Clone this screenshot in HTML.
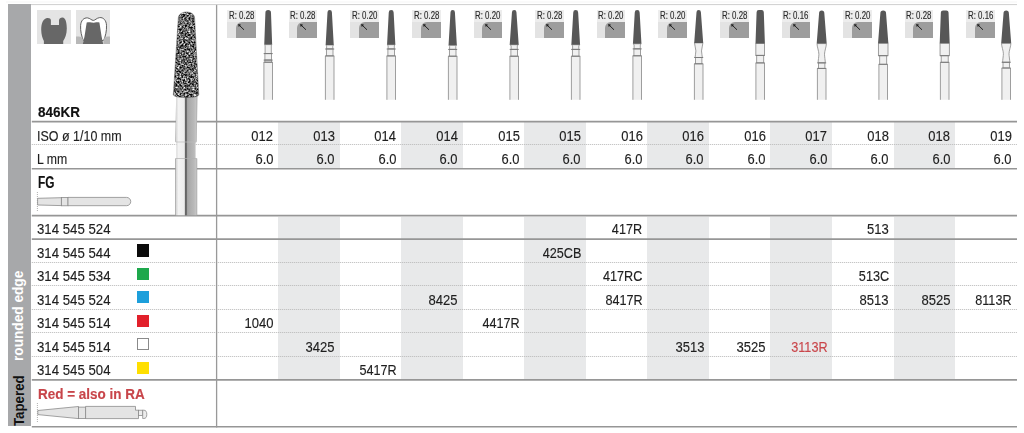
<!DOCTYPE html>
<html><head><meta charset="utf-8"><style>
*{margin:0;padding:0;box-sizing:border-box}
html,body{width:1024px;height:433px;overflow:hidden;background:#fff}
body{position:relative;font-family:"Liberation Sans",sans-serif;color:#1e1e1e}
.a{position:absolute}
.t{position:absolute;white-space:nowrap;font-size:14px;line-height:14px;-webkit-text-stroke:0.15px currentColor}
.tl{transform-origin:0 0}
.tr{transform-origin:100% 0}
.hl{position:absolute;height:0;border-top:1.5px solid #9a9a9a}
.hd{position:absolute;height:0;border-top:1px dotted #b4b4b4}
.g{position:absolute;background:#e8e9ea}
.rb{position:absolute;background:linear-gradient(#ededed 0,#ededed 11.5px,#e3e3e3 12.5px);width:28.6px;height:28.3px}
.rb i{position:absolute;left:8.6px;top:12.2px;width:20px;height:16.1px;background:#9d9d9d;border-top-left-radius:6px}
.rb b{position:absolute;left:1.6px;top:0.9px;font-weight:normal;font-size:10.5px;line-height:10.5px;color:#2a2a2a;-webkit-text-stroke:0.15px #2a2a2a;transform:scaleX(.75);transform-origin:0 0;white-space:nowrap}
</style></head><body>

<div class="a" style="left:6px;top:0.5px;width:1011px;height:2.5px;background:#fafafa"></div>

<div class="a" style="left:8px;top:4.3px;width:23.2px;height:421.3px;background:#a7a8aa"></div>
<div class="g" style="left:278.14px;top:122px;width:61.54px;height:46.5px"></div>
<div class="g" style="left:278.14px;top:216.5px;width:61.54px;height:163px"></div>
<div class="g" style="left:401.22px;top:122px;width:61.54px;height:46.5px"></div>
<div class="g" style="left:401.22px;top:216.5px;width:61.54px;height:163px"></div>
<div class="g" style="left:524.29px;top:122px;width:61.54px;height:46.5px"></div>
<div class="g" style="left:524.29px;top:216.5px;width:61.54px;height:163px"></div>
<div class="g" style="left:647.37px;top:122px;width:61.54px;height:46.5px"></div>
<div class="g" style="left:647.37px;top:216.5px;width:61.54px;height:163px"></div>
<div class="g" style="left:770.45px;top:122px;width:61.54px;height:46.5px"></div>
<div class="g" style="left:770.45px;top:216.5px;width:61.54px;height:163px"></div>
<div class="g" style="left:893.52px;top:122px;width:61.54px;height:46.5px"></div>
<div class="g" style="left:893.52px;top:216.5px;width:61.54px;height:163px"></div>
<svg class="a" style="left:0;top:0" width="1024" height="433"><line x1="31.8" x2="1017" y1="121.6" y2="121.6" stroke="#969696" stroke-width="1.6"/><line x1="31.8" x2="1017" y1="168.7" y2="168.7" stroke="#969696" stroke-width="1.6"/><line x1="31.8" x2="1017" y1="215.6" y2="215.6" stroke="#969696" stroke-width="1.6"/><line x1="31.8" x2="1017" y1="239.1" y2="239.1" stroke="#969696" stroke-width="1.6"/><line x1="31.8" x2="1017" y1="379.9" y2="379.9" stroke="#969696" stroke-width="1.6"/><line x1="31.8" x2="1017" y1="426.7" y2="426.7" stroke="#969696" stroke-width="1.6"/><line x1="31.8" x2="1017" y1="144.5" y2="144.5" stroke="#b8b8b8" stroke-width="1" stroke-dasharray="1 1"/><line x1="31.8" x2="1017" y1="262.5" y2="262.5" stroke="#b8b8b8" stroke-width="1" stroke-dasharray="1 1"/><line x1="31.8" x2="1017" y1="285.5" y2="285.5" stroke="#b8b8b8" stroke-width="1" stroke-dasharray="1 1"/><line x1="31.8" x2="1017" y1="309.5" y2="309.5" stroke="#b8b8b8" stroke-width="1" stroke-dasharray="1 1"/><line x1="31.8" x2="1017" y1="332.5" y2="332.5" stroke="#b8b8b8" stroke-width="1" stroke-dasharray="1 1"/><line x1="31.8" x2="1017" y1="356.5" y2="356.5" stroke="#b8b8b8" stroke-width="1" stroke-dasharray="1 1"/><line x1="216.6" x2="216.6" y1="4.3" y2="427.4" stroke="#999" stroke-width="1.3"/><line x1="31" x2="1017" y1="4.6" y2="4.6" stroke="#cfcfcf" stroke-width="1"/></svg>
<div class="t tl" style="font-size:15.5px;line-height:15.5px;top:104.03px;font-weight:bold;color:#111;left:38.00px;transform:scaleX(0.87);">846KR</div>
<div class="t tl" style="font-size:15.5px;line-height:15.5px;top:127.93px;left:36.90px;transform:scaleX(0.805);">ISO ø 1/10 mm</div>
<div class="t tl" style="font-size:15.5px;line-height:15.5px;top:151.13px;left:36.90px;transform:scaleX(0.79);">L mm</div>
<div class="t tl" style="font-size:16px;line-height:16px;top:174.91px;font-weight:bold;color:#111;left:37.60px;transform:scaleX(0.74);">FG</div>
<div class="t tl" style="font-size:15.5px;line-height:15.5px;top:220.93px;left:37.20px;transform:scaleX(0.853);">314 545 524</div>
<div class="t tr" style="font-size:15.5px;line-height:15.5px;top:220.93px;right:381.53px;transform:scaleX(0.815);">417R</div>
<div class="t tr" style="font-size:15.5px;line-height:15.5px;top:220.93px;right:135.38px;transform:scaleX(0.842);">513</div>
<div class="t tl" style="font-size:15.5px;line-height:15.5px;top:244.73px;left:37.20px;transform:scaleX(0.853);">314 545 544</div>
<div class="a" style="left:137.2px;top:244.40px;width:12.2px;height:12.2px;background:#0b0b0b"></div>
<div class="t tr" style="font-size:15.5px;line-height:15.5px;top:244.73px;right:443.07px;transform:scaleX(0.815);">425CB</div>
<div class="t tl" style="font-size:15.5px;line-height:15.5px;top:268.23px;left:37.20px;transform:scaleX(0.853);">314 545 534</div>
<div class="a" style="left:137.2px;top:267.90px;width:12.2px;height:12.2px;background:#1ea84c"></div>
<div class="t tr" style="font-size:15.5px;line-height:15.5px;top:268.23px;right:381.53px;transform:scaleX(0.815);">417RC</div>
<div class="t tr" style="font-size:15.5px;line-height:15.5px;top:268.23px;right:135.38px;transform:scaleX(0.815);">513C</div>
<div class="t tl" style="font-size:15.5px;line-height:15.5px;top:291.63px;left:37.20px;transform:scaleX(0.853);">314 545 524</div>
<div class="a" style="left:137.2px;top:291.30px;width:12.2px;height:12.2px;background:#1d9fdb"></div>
<div class="t tr" style="font-size:15.5px;line-height:15.5px;top:291.63px;right:566.15px;transform:scaleX(0.842);">8425</div>
<div class="t tr" style="font-size:15.5px;line-height:15.5px;top:291.63px;right:381.53px;transform:scaleX(0.815);">8417R</div>
<div class="t tr" style="font-size:15.5px;line-height:15.5px;top:291.63px;right:135.38px;transform:scaleX(0.842);">8513</div>
<div class="t tr" style="font-size:15.5px;line-height:15.5px;top:291.63px;right:73.84px;transform:scaleX(0.842);">8525</div>
<div class="t tr" style="font-size:15.5px;line-height:15.5px;top:291.63px;right:12.30px;transform:scaleX(0.815);">8113R</div>
<div class="t tl" style="font-size:15.5px;line-height:15.5px;top:315.13px;left:37.20px;transform:scaleX(0.853);">314 545 514</div>
<div class="a" style="left:137.2px;top:314.80px;width:12.2px;height:12.2px;background:#e2202b"></div>
<div class="t tr" style="font-size:15.5px;line-height:15.5px;top:315.13px;right:750.76px;transform:scaleX(0.842);">1040</div>
<div class="t tr" style="font-size:15.5px;line-height:15.5px;top:315.13px;right:504.61px;transform:scaleX(0.815);">4417R</div>
<div class="t tl" style="font-size:15.5px;line-height:15.5px;top:338.63px;left:37.20px;transform:scaleX(0.853);">314 545 514</div>
<div class="a" style="left:137.2px;top:338.30px;width:12.2px;height:12.2px;background:#fff;border:1.3px solid #8a8a8a"></div>
<div class="t tr" style="font-size:15.5px;line-height:15.5px;top:338.63px;right:689.22px;transform:scaleX(0.842);">3425</div>
<div class="t tr" style="font-size:15.5px;line-height:15.5px;top:338.63px;right:319.99px;transform:scaleX(0.842);">3513</div>
<div class="t tr" style="font-size:15.5px;line-height:15.5px;top:338.63px;right:258.45px;transform:scaleX(0.842);">3525</div>
<div class="t tr" style="font-size:15.5px;line-height:15.5px;top:338.63px;color:#c9464b;right:196.92px;transform:scaleX(0.815);">3113R</div>
<div class="t tl" style="font-size:15.5px;line-height:15.5px;top:362.43px;left:37.20px;transform:scaleX(0.853);">314 545 504</div>
<div class="a" style="left:137.2px;top:362.10px;width:12.2px;height:12.2px;background:#ffdf00"></div>
<div class="t tr" style="font-size:15.5px;line-height:15.5px;top:362.43px;right:627.68px;transform:scaleX(0.815);">5417R</div>
<div class="t tr" style="font-size:15.5px;line-height:15.5px;top:128.13px;right:750.76px;transform:scaleX(0.835);">012</div>
<div class="t tr" style="font-size:15.5px;line-height:15.5px;top:151.23px;right:750.76px;transform:scaleX(0.835);">6.0</div>
<div class="t tr" style="font-size:15.5px;line-height:15.5px;top:128.13px;right:689.22px;transform:scaleX(0.835);">013</div>
<div class="t tr" style="font-size:15.5px;line-height:15.5px;top:151.23px;right:689.22px;transform:scaleX(0.835);">6.0</div>
<div class="t tr" style="font-size:15.5px;line-height:15.5px;top:128.13px;right:627.68px;transform:scaleX(0.835);">014</div>
<div class="t tr" style="font-size:15.5px;line-height:15.5px;top:151.23px;right:627.68px;transform:scaleX(0.835);">6.0</div>
<div class="t tr" style="font-size:15.5px;line-height:15.5px;top:128.13px;right:566.15px;transform:scaleX(0.835);">014</div>
<div class="t tr" style="font-size:15.5px;line-height:15.5px;top:151.23px;right:566.15px;transform:scaleX(0.835);">6.0</div>
<div class="t tr" style="font-size:15.5px;line-height:15.5px;top:128.13px;right:504.61px;transform:scaleX(0.835);">015</div>
<div class="t tr" style="font-size:15.5px;line-height:15.5px;top:151.23px;right:504.61px;transform:scaleX(0.835);">6.0</div>
<div class="t tr" style="font-size:15.5px;line-height:15.5px;top:128.13px;right:443.07px;transform:scaleX(0.835);">015</div>
<div class="t tr" style="font-size:15.5px;line-height:15.5px;top:151.23px;right:443.07px;transform:scaleX(0.835);">6.0</div>
<div class="t tr" style="font-size:15.5px;line-height:15.5px;top:128.13px;right:381.53px;transform:scaleX(0.835);">016</div>
<div class="t tr" style="font-size:15.5px;line-height:15.5px;top:151.23px;right:381.53px;transform:scaleX(0.835);">6.0</div>
<div class="t tr" style="font-size:15.5px;line-height:15.5px;top:128.13px;right:319.99px;transform:scaleX(0.835);">016</div>
<div class="t tr" style="font-size:15.5px;line-height:15.5px;top:151.23px;right:319.99px;transform:scaleX(0.835);">6.0</div>
<div class="t tr" style="font-size:15.5px;line-height:15.5px;top:128.13px;right:258.45px;transform:scaleX(0.835);">016</div>
<div class="t tr" style="font-size:15.5px;line-height:15.5px;top:151.23px;right:258.45px;transform:scaleX(0.835);">6.0</div>
<div class="t tr" style="font-size:15.5px;line-height:15.5px;top:128.13px;right:196.92px;transform:scaleX(0.835);">017</div>
<div class="t tr" style="font-size:15.5px;line-height:15.5px;top:151.23px;right:196.92px;transform:scaleX(0.835);">6.0</div>
<div class="t tr" style="font-size:15.5px;line-height:15.5px;top:128.13px;right:135.38px;transform:scaleX(0.835);">018</div>
<div class="t tr" style="font-size:15.5px;line-height:15.5px;top:151.23px;right:135.38px;transform:scaleX(0.835);">6.0</div>
<div class="t tr" style="font-size:15.5px;line-height:15.5px;top:128.13px;right:73.84px;transform:scaleX(0.835);">018</div>
<div class="t tr" style="font-size:15.5px;line-height:15.5px;top:151.23px;right:73.84px;transform:scaleX(0.835);">6.0</div>
<div class="t tr" style="font-size:15.5px;line-height:15.5px;top:128.13px;right:12.30px;transform:scaleX(0.835);">019</div>
<div class="t tr" style="font-size:15.5px;line-height:15.5px;top:151.23px;right:12.30px;transform:scaleX(0.835);">6.0</div>
<div class="t tl" style="font-size:14.5px;line-height:14.5px;top:386.56px;font-weight:bold;color:#c8454a;left:37.50px;transform:scaleX(0.93);">Red = also in RA</div>
<div class="rb" style="left:227.20px;top:9.5px"><i></i><b>R: 0.28</b><svg class="a" style="left:10px;top:13.5px" width="9" height="9" viewBox="0 0 9 9"><path d="M2 2 L7 6.8" stroke="#1a1a1a" stroke-width="0.95"/><path d="M1.1 1.1 L4.1 1.7 L1.7 4.1 Z" fill="#1a1a1a"/></svg></div>
<svg class="a" style="left:0;top:0" width="1024" height="110" viewBox="0 0 1024 110"><rect x="263.90" y="62.20" width="8.6" height="37.60" fill="#f0f0f0"/><path d="M263.90,99.80 L263.90,62.20 M272.50,62.20 L272.50,99.80" fill="none" stroke="#8e8e8e" stroke-width="0.85"/><path d="M264.65,44.60 L265.10,45.80 L265.10,53.60 L271.30,53.60 L271.30,45.80 L271.75,44.60 Z" fill="#f0f0f0" stroke="#8e8e8e" stroke-width="0.85"/><rect x="264.90" y="53.60" width="6.60" height="6.50" fill="#f0f0f0" stroke="#8e8e8e" stroke-width="0.85"/><rect x="264.90" y="60.10" width="6.60" height="2.10" fill="#f0f0f0" stroke="#8e8e8e" stroke-width="0.85"/><line x1="263.70" x2="272.70" y1="53.60" y2="53.60" stroke="#7a7a7a" stroke-width="1"/><line x1="263.70" x2="272.70" y1="60.10" y2="60.10" stroke="#7a7a7a" stroke-width="1"/><line x1="263.70" x2="272.70" y1="62.20" y2="62.20" stroke="#7a7a7a" stroke-width="1"/><path d="M264.25,44.60 L265.40,12.90 A2.80,2.80 0 0 1 271.00,12.90 L272.15,44.60 Z" fill="#575757"/></svg>
<div class="rb" style="left:288.80px;top:9.5px"><i></i><b>R: 0.28</b><svg class="a" style="left:10px;top:13.5px" width="9" height="9" viewBox="0 0 9 9"><path d="M2 2 L7 6.8" stroke="#1a1a1a" stroke-width="0.95"/><path d="M1.1 1.1 L4.1 1.7 L1.7 4.1 Z" fill="#1a1a1a"/></svg></div>
<svg class="a" style="left:0;top:0" width="1024" height="110" viewBox="0 0 1024 110"><rect x="325.40" y="55.90" width="8.6" height="43.90" fill="#f0f0f0"/><path d="M325.40,99.80 L325.40,55.90 M334.00,55.90 L334.00,99.80" fill="none" stroke="#8e8e8e" stroke-width="0.85"/><path d="M326.05,45.00 L326.60,46.20 L326.60,49.00 L332.80,49.00 L332.80,46.20 L333.35,45.00 Z" fill="#f0f0f0" stroke="#8e8e8e" stroke-width="0.85"/><rect x="326.40" y="49.00" width="6.60" height="6.90" fill="#f0f0f0" stroke="#8e8e8e" stroke-width="0.85"/><line x1="325.20" x2="334.20" y1="49.00" y2="49.00" stroke="#7a7a7a" stroke-width="1"/><line x1="325.20" x2="334.20" y1="55.90" y2="55.90" stroke="#7a7a7a" stroke-width="1"/><path d="M325.65,45.00 L327.50,12.30 A2.20,2.20 0 0 1 331.90,12.30 L333.75,45.00 Z" fill="#575757"/></svg>
<div class="rb" style="left:350.40px;top:9.5px"><i></i><b>R: 0.20</b><svg class="a" style="left:10px;top:13.5px" width="9" height="9" viewBox="0 0 9 9"><path d="M2 2 L7 6.8" stroke="#1a1a1a" stroke-width="0.95"/><path d="M1.1 1.1 L4.1 1.7 L1.7 4.1 Z" fill="#1a1a1a"/></svg></div>
<svg class="a" style="left:0;top:0" width="1024" height="110" viewBox="0 0 1024 110"><rect x="386.90" y="55.90" width="8.6" height="43.90" fill="#f0f0f0"/><path d="M386.90,99.80 L386.90,55.90 M395.50,55.90 L395.50,99.80" fill="none" stroke="#8e8e8e" stroke-width="0.85"/><path d="M387.45,44.70 L388.10,45.90 L388.10,49.00 L394.30,49.00 L394.30,45.90 L394.95,44.70 Z" fill="#f0f0f0" stroke="#8e8e8e" stroke-width="0.85"/><rect x="387.90" y="49.00" width="6.60" height="6.90" fill="#f0f0f0" stroke="#8e8e8e" stroke-width="0.85"/><line x1="386.70" x2="395.70" y1="49.00" y2="49.00" stroke="#7a7a7a" stroke-width="1"/><line x1="386.70" x2="395.70" y1="55.90" y2="55.90" stroke="#7a7a7a" stroke-width="1"/><path d="M387.05,44.70 L388.75,12.55 A2.45,2.45 0 0 1 393.65,12.55 L395.35,44.70 Z" fill="#575757"/></svg>
<div class="rb" style="left:412.00px;top:9.5px"><i></i><b>R: 0.28</b><svg class="a" style="left:10px;top:13.5px" width="9" height="9" viewBox="0 0 9 9"><path d="M2 2 L7 6.8" stroke="#1a1a1a" stroke-width="0.95"/><path d="M1.1 1.1 L4.1 1.7 L1.7 4.1 Z" fill="#1a1a1a"/></svg></div>
<svg class="a" style="left:0;top:0" width="1024" height="110" viewBox="0 0 1024 110"><rect x="448.40" y="56.20" width="8.6" height="43.60" fill="#f0f0f0"/><path d="M448.40,99.80 L448.40,56.20 M457.00,56.20 L457.00,99.80" fill="none" stroke="#8e8e8e" stroke-width="0.85"/><path d="M448.95,45.30 L449.60,46.50 L449.60,49.40 L455.80,49.40 L455.80,46.50 L456.45,45.30 Z" fill="#f0f0f0" stroke="#8e8e8e" stroke-width="0.85"/><rect x="449.40" y="49.40" width="6.60" height="6.80" fill="#f0f0f0" stroke="#8e8e8e" stroke-width="0.85"/><line x1="448.20" x2="457.20" y1="49.40" y2="49.40" stroke="#7a7a7a" stroke-width="1"/><line x1="448.20" x2="457.20" y1="56.20" y2="56.20" stroke="#7a7a7a" stroke-width="1"/><path d="M448.55,45.30 L450.50,12.30 A2.20,2.20 0 0 1 454.90,12.30 L456.85,45.30 Z" fill="#575757"/></svg>
<div class="rb" style="left:473.60px;top:9.5px"><i></i><b>R: 0.20</b><svg class="a" style="left:10px;top:13.5px" width="9" height="9" viewBox="0 0 9 9"><path d="M2 2 L7 6.8" stroke="#1a1a1a" stroke-width="0.95"/><path d="M1.1 1.1 L4.1 1.7 L1.7 4.1 Z" fill="#1a1a1a"/></svg></div>
<svg class="a" style="left:0;top:0" width="1024" height="110" viewBox="0 0 1024 110"><rect x="509.90" y="56.20" width="8.6" height="43.60" fill="#f0f0f0"/><path d="M509.90,99.80 L509.90,56.20 M518.50,56.20 L518.50,99.80" fill="none" stroke="#8e8e8e" stroke-width="0.85"/><path d="M510.10,44.70 L511.10,45.90 L511.10,49.40 L517.30,49.40 L517.30,45.90 L518.30,44.70 Z" fill="#f0f0f0" stroke="#8e8e8e" stroke-width="0.85"/><rect x="510.90" y="49.40" width="6.60" height="6.80" fill="#f0f0f0" stroke="#8e8e8e" stroke-width="0.85"/><line x1="509.70" x2="518.70" y1="49.40" y2="49.40" stroke="#7a7a7a" stroke-width="1"/><line x1="509.70" x2="518.70" y1="56.20" y2="56.20" stroke="#7a7a7a" stroke-width="1"/><path d="M509.70,44.70 L511.95,12.35 A2.25,2.25 0 0 1 516.45,12.35 L518.70,44.70 Z" fill="#575757"/></svg>
<div class="rb" style="left:535.20px;top:9.5px"><i></i><b>R: 0.28</b><svg class="a" style="left:10px;top:13.5px" width="9" height="9" viewBox="0 0 9 9"><path d="M2 2 L7 6.8" stroke="#1a1a1a" stroke-width="0.95"/><path d="M1.1 1.1 L4.1 1.7 L1.7 4.1 Z" fill="#1a1a1a"/></svg></div>
<svg class="a" style="left:0;top:0" width="1024" height="110" viewBox="0 0 1024 110"><rect x="571.40" y="56.20" width="8.6" height="43.60" fill="#f0f0f0"/><path d="M571.40,99.80 L571.40,56.20 M580.00,56.20 L580.00,99.80" fill="none" stroke="#8e8e8e" stroke-width="0.85"/><path d="M571.75,44.70 L572.60,45.90 L572.60,49.40 L578.80,49.40 L578.80,45.90 L579.65,44.70 Z" fill="#f0f0f0" stroke="#8e8e8e" stroke-width="0.85"/><rect x="572.40" y="49.40" width="6.60" height="6.80" fill="#f0f0f0" stroke="#8e8e8e" stroke-width="0.85"/><line x1="571.20" x2="580.20" y1="49.40" y2="49.40" stroke="#7a7a7a" stroke-width="1"/><line x1="571.20" x2="580.20" y1="56.20" y2="56.20" stroke="#7a7a7a" stroke-width="1"/><path d="M571.35,44.70 L573.25,12.55 A2.45,2.45 0 0 1 578.15,12.55 L580.05,44.70 Z" fill="#575757"/></svg>
<div class="rb" style="left:596.80px;top:9.5px"><i></i><b>R: 0.20</b><svg class="a" style="left:10px;top:13.5px" width="9" height="9" viewBox="0 0 9 9"><path d="M2 2 L7 6.8" stroke="#1a1a1a" stroke-width="0.95"/><path d="M1.1 1.1 L4.1 1.7 L1.7 4.1 Z" fill="#1a1a1a"/></svg></div>
<svg class="a" style="left:0;top:0" width="1024" height="110" viewBox="0 0 1024 110"><rect x="632.90" y="55.80" width="8.6" height="44.00" fill="#f0f0f0"/><path d="M632.90,99.80 L632.90,55.80 M641.50,55.80 L641.50,99.80" fill="none" stroke="#8e8e8e" stroke-width="0.85"/><path d="M633.35,43.80 L634.10,45.00 L634.10,48.90 L640.30,48.90 L640.30,45.00 L641.05,43.80 Z" fill="#f0f0f0" stroke="#8e8e8e" stroke-width="0.85"/><rect x="633.90" y="48.90" width="6.60" height="6.90" fill="#f0f0f0" stroke="#8e8e8e" stroke-width="0.85"/><line x1="632.70" x2="641.70" y1="48.90" y2="48.90" stroke="#7a7a7a" stroke-width="1"/><line x1="632.70" x2="641.70" y1="55.80" y2="55.80" stroke="#7a7a7a" stroke-width="1"/><path d="M632.95,43.80 L634.75,12.55 A2.45,2.45 0 0 1 639.65,12.55 L641.45,43.80 Z" fill="#575757"/></svg>
<div class="rb" style="left:658.40px;top:9.5px"><i></i><b>R: 0.20</b><svg class="a" style="left:10px;top:13.5px" width="9" height="9" viewBox="0 0 9 9"><path d="M2 2 L7 6.8" stroke="#1a1a1a" stroke-width="0.95"/><path d="M1.1 1.1 L4.1 1.7 L1.7 4.1 Z" fill="#1a1a1a"/></svg></div>
<svg class="a" style="left:0;top:0" width="1024" height="110" viewBox="0 0 1024 110"><rect x="694.40" y="63.80" width="8.6" height="36.00" fill="#f0f0f0"/><path d="M694.40,99.80 L694.40,63.80 M703.00,63.80 L703.00,99.80" fill="none" stroke="#8e8e8e" stroke-width="0.85"/><path d="M694.50,42.90 C694.50,45.90 695.90,47.93 695.90,50.93 C695.90,52.93 695.10,55.50 695.10,57.50 L702.30,57.50 C702.30,55.50 701.50,52.93 701.50,50.93 C701.50,47.93 702.90,45.90 702.90,42.90 Z" fill="#f0f0f0" stroke="#8e8e8e" stroke-width="0.85"/><rect x="695.50" y="57.50" width="6.40" height="6.30" fill="#f0f0f0" stroke="#8e8e8e" stroke-width="0.85"/><line x1="694.20" x2="703.20" y1="57.50" y2="57.50" stroke="#7a7a7a" stroke-width="1"/><line x1="694.20" x2="703.20" y1="63.80" y2="63.80" stroke="#7a7a7a" stroke-width="1"/><path d="M694.20,42.90 L696.50,12.30 A2.20,2.20 0 0 1 700.90,12.30 L703.20,42.90 Z" fill="#575757"/></svg>
<div class="rb" style="left:720.00px;top:9.5px"><i></i><b>R: 0.28</b><svg class="a" style="left:10px;top:13.5px" width="9" height="9" viewBox="0 0 9 9"><path d="M2 2 L7 6.8" stroke="#1a1a1a" stroke-width="0.95"/><path d="M1.1 1.1 L4.1 1.7 L1.7 4.1 Z" fill="#1a1a1a"/></svg></div>
<svg class="a" style="left:0;top:0" width="1024" height="110" viewBox="0 0 1024 110"><rect x="755.90" y="62.90" width="8.6" height="36.90" fill="#f0f0f0"/><path d="M755.90,99.80 L755.90,62.90 M764.50,62.90 L764.50,99.80" fill="none" stroke="#8e8e8e" stroke-width="0.85"/><rect x="755.85" y="43.40" width="8.70" height="12.00" fill="#f0f0f0" stroke="#8e8e8e" stroke-width="0.85"/><rect x="756.70" y="55.40" width="7.00" height="7.50" fill="#f0f0f0" stroke="#8e8e8e" stroke-width="0.85"/><line x1="755.70" x2="764.70" y1="55.40" y2="55.40" stroke="#7a7a7a" stroke-width="1"/><line x1="755.70" x2="764.70" y1="62.90" y2="62.90" stroke="#7a7a7a" stroke-width="1"/><path d="M755.50,43.40 L756.60,12.30 Q756.60,10.10 758.80,10.10 L761.60,10.10 Q763.80,10.10 763.80,12.30 L764.90,43.40 Z" fill="#575757"/></svg>
<div class="rb" style="left:781.60px;top:9.5px"><i></i><b>R: 0.16</b><svg class="a" style="left:10px;top:13.5px" width="9" height="9" viewBox="0 0 9 9"><path d="M2 2 L7 6.8" stroke="#1a1a1a" stroke-width="0.95"/><path d="M1.1 1.1 L4.1 1.7 L1.7 4.1 Z" fill="#1a1a1a"/></svg></div>
<svg class="a" style="left:0;top:0" width="1024" height="110" viewBox="0 0 1024 110"><rect x="817.40" y="68.40" width="8.6" height="31.40" fill="#f0f0f0"/><path d="M817.40,99.80 L817.40,68.40 M826.00,68.40 L826.00,99.80" fill="none" stroke="#8e8e8e" stroke-width="0.85"/><path d="M817.00,43.60 C817.00,46.60 818.90,51.22 818.90,54.22 C818.90,56.22 818.10,60.90 818.10,62.90 L825.30,62.90 C825.30,60.90 824.50,56.22 824.50,54.22 C824.50,51.22 826.40,46.60 826.40,43.60 Z" fill="#f0f0f0" stroke="#8e8e8e" stroke-width="0.85"/><rect x="818.50" y="62.90" width="6.40" height="5.50" fill="#f0f0f0" stroke="#8e8e8e" stroke-width="0.85"/><line x1="817.20" x2="826.20" y1="62.90" y2="62.90" stroke="#7a7a7a" stroke-width="1"/><line x1="817.20" x2="826.20" y1="68.40" y2="68.40" stroke="#7a7a7a" stroke-width="1"/><path d="M816.70,43.60 L819.10,13.00 A2.60,2.60 0 0 1 824.30,13.00 L826.70,43.60 Z" fill="#575757"/></svg>
<div class="rb" style="left:843.20px;top:9.5px"><i></i><b>R: 0.20</b><svg class="a" style="left:10px;top:13.5px" width="9" height="9" viewBox="0 0 9 9"><path d="M2 2 L7 6.8" stroke="#1a1a1a" stroke-width="0.95"/><path d="M1.1 1.1 L4.1 1.7 L1.7 4.1 Z" fill="#1a1a1a"/></svg></div>
<svg class="a" style="left:0;top:0" width="1024" height="110" viewBox="0 0 1024 110"><rect x="878.90" y="64.30" width="8.6" height="35.50" fill="#f0f0f0"/><path d="M878.90,99.80 L878.90,64.30 M887.50,64.30 L887.50,99.80" fill="none" stroke="#8e8e8e" stroke-width="0.85"/><rect x="878.40" y="43.30" width="9.60" height="12.40" fill="#f0f0f0" stroke="#8e8e8e" stroke-width="0.85"/><rect x="879.70" y="55.70" width="7.00" height="8.60" fill="#f0f0f0" stroke="#8e8e8e" stroke-width="0.85"/><line x1="878.70" x2="887.70" y1="55.70" y2="55.70" stroke="#7a7a7a" stroke-width="1"/><line x1="878.70" x2="887.70" y1="64.30" y2="64.30" stroke="#7a7a7a" stroke-width="1"/><path d="M878.05,43.30 L880.35,13.25 A2.85,2.85 0 0 1 886.05,13.25 L888.35,43.30 Z" fill="#575757"/></svg>
<div class="rb" style="left:904.80px;top:9.5px"><i></i><b>R: 0.28</b><svg class="a" style="left:10px;top:13.5px" width="9" height="9" viewBox="0 0 9 9"><path d="M2 2 L7 6.8" stroke="#1a1a1a" stroke-width="0.95"/><path d="M1.1 1.1 L4.1 1.7 L1.7 4.1 Z" fill="#1a1a1a"/></svg></div>
<svg class="a" style="left:0;top:0" width="1024" height="110" viewBox="0 0 1024 110"><rect x="940.40" y="62.30" width="8.6" height="37.50" fill="#f0f0f0"/><path d="M940.40,99.80 L940.40,62.30 M949.00,62.30 L949.00,99.80" fill="none" stroke="#8e8e8e" stroke-width="0.85"/><rect x="940.05" y="43.30" width="9.30" height="12.40" fill="#f0f0f0" stroke="#8e8e8e" stroke-width="0.85"/><rect x="941.20" y="55.70" width="7.00" height="6.60" fill="#f0f0f0" stroke="#8e8e8e" stroke-width="0.85"/><line x1="940.20" x2="949.20" y1="55.70" y2="55.70" stroke="#7a7a7a" stroke-width="1"/><line x1="940.20" x2="949.20" y1="62.30" y2="62.30" stroke="#7a7a7a" stroke-width="1"/><path d="M939.70,43.30 L940.85,12.60 Q940.85,10.40 943.05,10.40 L946.35,10.40 Q948.55,10.40 948.55,12.60 L949.70,43.30 Z" fill="#575757"/></svg>
<div class="rb" style="left:966.40px;top:9.5px"><i></i><b>R: 0.16</b><svg class="a" style="left:10px;top:13.5px" width="9" height="9" viewBox="0 0 9 9"><path d="M2 2 L7 6.8" stroke="#1a1a1a" stroke-width="0.95"/><path d="M1.1 1.1 L4.1 1.7 L1.7 4.1 Z" fill="#1a1a1a"/></svg></div>
<svg class="a" style="left:0;top:0" width="1024" height="110" viewBox="0 0 1024 110"><rect x="1001.90" y="68.00" width="8.6" height="31.80" fill="#f0f0f0"/><path d="M1001.90,99.80 L1001.90,68.00 M1010.50,68.00 L1010.50,99.80" fill="none" stroke="#8e8e8e" stroke-width="0.85"/><path d="M1001.50,43.30 C1001.50,46.30 1003.40,50.75 1003.40,53.75 C1003.40,55.75 1002.60,60.30 1002.60,62.30 L1009.80,62.30 C1009.80,60.30 1009.00,55.75 1009.00,53.75 C1009.00,50.75 1010.90,46.30 1010.90,43.30 Z" fill="#f0f0f0" stroke="#8e8e8e" stroke-width="0.85"/><rect x="1003.00" y="62.30" width="6.40" height="5.70" fill="#f0f0f0" stroke="#8e8e8e" stroke-width="0.85"/><line x1="1001.70" x2="1010.70" y1="62.30" y2="62.30" stroke="#7a7a7a" stroke-width="1"/><line x1="1001.70" x2="1010.70" y1="68.00" y2="68.00" stroke="#7a7a7a" stroke-width="1"/><path d="M1001.20,43.30 L1003.55,13.05 A2.65,2.65 0 0 1 1008.85,13.05 L1011.20,43.30 Z" fill="#575757"/></svg>
<div class="a" style="left:36.9px;top:9.9px;width:34.2px;height:34.1px;background:#e4e4e4;overflow:hidden">
<svg width="35" height="35" viewBox="0 0 35 35"><path d="M6.9,34.2 L6.9,31 C5.5,28.5 4.2,24.5 4.2,19.5 C4.2,13 6.3,8.6 10,8 C12.2,7.7 13.8,8.6 13.9,10.3 L13.9,14.9 L22,14.9 L22,10.2 C22.3,8.3 23.8,7.5 25.5,7.6 C28.6,8 29.8,12.5 29.8,18.5 C29.8,24 28,28.5 26.2,31 L26.2,34.2 Z" fill="#676767"/></svg></div>
<div class="a" style="left:75.6px;top:9.9px;width:34.4px;height:34.1px;background:#e4e4e4;overflow:hidden">
<svg width="35" height="35" viewBox="0 0 35 35">
<path d="M7.4,30.5 C5.6,26.5 4.3,21 4.6,15.5 C4.9,10.5 7.8,7.6 11.5,7.9 C14,8.1 15.5,10.4 17.3,10.4 C19.1,10.4 20.6,8 23.6,7.6 C27.3,7.2 30.2,10.2 30.5,15.3 C30.8,21 29.4,26.6 27.6,30.5 Z" fill="#fff" stroke="#4e4e4e" stroke-width="0.9"/>
<path d="M0,35 L0,26.6 L2.5,26.6 C5,26.6 6.8,28 7.2,30.5 L7.4,35 Z" fill="#b8b8b8"/>
<path d="M35,35 L35,26.6 L32,26.6 C29.5,26.6 27.8,28 27.5,30.5 L27.3,35 Z" fill="#b8b8b8"/>
<path d="M10.7,12.6 C13.8,11.9 15.4,12.7 17,12.7 C18.7,12.7 20.4,11.9 23.4,12.4 L25.6,26.5 L27.4,35 L6.6,35 L8.5,26.5 Z" fill="#676767"/>
</svg></div>
<svg class="a" style="left:165px;top:5px" width="45" height="215" viewBox="165 5 45 215">
<defs>
<linearGradient id="sh" gradientUnits="userSpaceOnUse" x1="175.2" x2="197.3" y1="0" y2="0">
<stop offset="0" stop-color="#8c8c8c"/><stop offset="0.05" stop-color="#d8d8d8"/><stop offset="0.15" stop-color="#f3f3f3"/><stop offset="0.38" stop-color="#ededed"/>
<stop offset="0.44" stop-color="#cfcfcf"/><stop offset="0.47" stop-color="#555"/><stop offset="0.49" stop-color="#2e2e2e"/><stop offset="0.515" stop-color="#777"/><stop offset="0.56" stop-color="#a6a6a6"/><stop offset="0.85" stop-color="#b9b9b9"/><stop offset="0.95" stop-color="#c6c6c6"/><stop offset="1" stop-color="#909090"/>
</linearGradient>
<filter id="nz" x="0" y="0" width="1" height="1" color-interpolation-filters="sRGB">
<feTurbulence type="fractalNoise" baseFrequency="0.55" numOctaves="2" seed="7" result="t"/>
<feColorMatrix in="t" type="matrix" values="1.9 0 0 0 -0.55  1.9 0 0 0 -0.55  1.9 0 0 0 -0.55  0 0 0 0 1" result="c"/>
<feGaussianBlur in="c" stdDeviation="0.35" result="cb"/><feComposite in="cb" in2="SourceGraphic" operator="in"/>
</filter>
<clipPath id="hc"><path d="M173.3,95 L178.3,18 C179,10 194,10 194.6,18 L198.8,95 Q197,97.5 186,97.5 Q175,97.5 173.3,95 Z"/></clipPath>
</defs>
<path d="M176.2,94.5 L175.3,141.5 L176.3,142.5 L176.3,158.5 L175.2,158.5 L175.2,215.2 L197.2,215.2 L197.2,158.5 L195.6,158.5 L195.6,142.5 L196.8,141.5 L197.4,94.5 Z" fill="url(#sh)"/>
<line x1="175.6" y1="142" x2="196.5" y2="142" stroke="#bbb" stroke-width="0.7"/>
<line x1="175.5" y1="158.5" x2="196.9" y2="158.5" stroke="#b0b0b0" stroke-width="0.7"/>
<g clip-path="url(#hc)"><rect x="172" y="9" width="28" height="90" fill="#777" filter="url(#nz)"/></g><path d="M173.3,95 L178.3,18 C179,10 194,10 194.6,18 L198.8,95 Q197,97.5 186,97.5 Q175,97.5 173.3,95 Z" fill="none" stroke="#555" stroke-width="0.7" stroke-opacity="0.7"/>
</svg>
<svg class="a" style="left:35px;top:190px" width="100" height="24" viewBox="35 190 100 24">
<line x1="37.4" y1="192" x2="37.4" y2="212" stroke="#999" stroke-width="0.8" stroke-dasharray="1 1"/>
<path d="M37.6,198.3 L61.4,197.7 L61.4,205.6 L37.6,205.0 Z" fill="#e4e4e4" stroke="#8a8a8a" stroke-width="0.8"/>
<rect x="61.4" y="197.5" width="6.6" height="8.3" fill="#e4e4e4" stroke="#8a8a8a" stroke-width="0.8"/>
<path d="M68,197.4 L126.6,197.4 A4.15,4.15 0 0 1 126.6,205.7 L68,205.7 Z" fill="#e4e4e4" stroke="#8a8a8a" stroke-width="0.8"/>
</svg>
<svg class="a" style="left:35px;top:401px" width="115" height="22" viewBox="35 401 115 22">
<line x1="37.4" y1="403" x2="37.4" y2="422" stroke="#999" stroke-width="0.8" stroke-dasharray="1 1"/>
<path d="M37.8,410.5 L78.5,406.5 L78.5,418.6 L37.8,414.6 Z" fill="#e4e4e4" stroke="#8a8a8a" stroke-width="0.8"/>
<rect x="78.5" y="407.1" width="7.1" height="11.5" fill="#e4e4e4" stroke="#8a8a8a" stroke-width="0.8"/>
<path d="M85.6,406.4 L135.5,406.4 L135.5,410.2 L138.5,410.2 L138.5,418.6 L85.6,418.6 Z" fill="#e4e4e4" stroke="#8a8a8a" stroke-width="0.8"/>
<rect x="138.5" y="410.2" width="4.2" height="5.2" fill="#ececec" stroke="#8a8a8a" stroke-width="0.8"/>
<path d="M142.7,410.2 L143.8,410.2 Q146.8,410.2 146.8,414.4 Q146.8,418.5 143.8,418.5 L142.7,418.5 Z" fill="#ececec" stroke="#8a8a8a" stroke-width="0.8"/>
</svg>
<div class="a" style="left:23.90px;top:425.60px;transform:rotate(-90deg) scaleX(0.915);transform-origin:0 0;font-weight:bold;font-size:14.5px;line-height:14.5px;color:#111;white-space:nowrap"><span style="display:block;position:relative;top:-12.04px">Tapered</span></div>
<div class="a" style="left:22.60px;top:361.20px;transform:rotate(-90deg) scaleX(0.975);transform-origin:0 0;font-weight:bold;font-size:14px;line-height:14px;color:#fff;white-space:nowrap"><span style="display:block;position:relative;top:-11.63px">rounded edge</span></div>
</body></html>
